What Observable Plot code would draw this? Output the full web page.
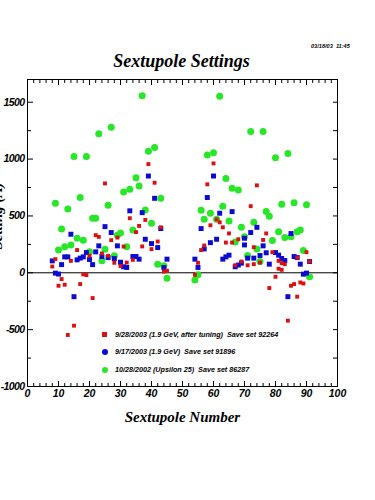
<!DOCTYPE html>
<html><head><meta charset="utf-8">
<script src="https://cdn.jsdelivr.net/npm/d3@7"></script>
<script src="https://cdn.jsdelivr.net/npm/@observablehq/plot@0.6"></script>
<style>
html,body{margin:0;padding:0;background:#fff;}
#wrap{position:relative;width:375px;height:500px;overflow:hidden;background:#fff;}
#chart{position:absolute;left:0;top:0;}
.title{position:absolute;left:0;width:363px;top:51px;text-align:center;font:italic bold 18px "Liberation Serif";color:#000;white-space:nowrap;}
.date{position:absolute;left:311px;top:43px;font:italic bold 5.6px "Liberation Sans";color:#000;white-space:pre;}
.leg{position:absolute;left:100px;font:italic bold 7.2px "Liberation Sans";color:#000;white-space:pre;line-height:9px;}
.leg span.m{position:absolute;left:0;}
.leg span.t{position:absolute;left:15px;top:0;}
svg g[aria-label="x-axis label"] text{font-family:"Liberation Serif";font-size:15px;letter-spacing:0;}
svg g[aria-label="y-axis tick label"] text{letter-spacing:-0.6px;}
</style>
</head><body>
<div id="wrap"></div>
<script>
// Sextupole numbers and settings (A), one array pair per save set
const seriesNames = [
  "9/28/2003 (1.9 GeV, after tuning)  Save set 92264",
  "9/17/2003 (1.9 GeV)  Save set 91896",
  "10/28/2002 (Upsilon 25)  Save set 86287"
];
const seriesColors = ["#dc1010", "#0a0ad2", "#28e628"];

const redNum = [8,9,10,11,12,13,14,15,16,17,18,19,20,21,22,23,24,25,26,27,28,29,30,31,32,33,34,35,36,37,38,39,40,41,42,43,44,45,
  54,55,56,57,58,59,60,61,62,63,64,65,66,67,68,69,71,72,73,73,74,75,76,77,78,79,80,81,81,82,82,83,84,85,86,87,87,88,89,90,91];
const redVal = [55,120,-114,-55,-105,-547,105,-465,200,-99,-14,-20,149,-222,331,316,170,786,150,287,88,310,60,231,90,480,114,358,412,232,465,956,208,792,275,400,11,18,
  -18,88,200,240,778,418,962,470,444,400,266,346,266,66,295,99,66,586,225,76,769,90,289,346,-134,181,-35,105,36,85,26,76,-421,-114,-99,-210,134,-85,-94,181,99];

const blueNum = [8,9,10,11,12,13,14,15,16,17,18,19,20,21,22,23,24,25,26,27,28,29,30,31,32,33,34,35,36,37,38,39,40,41,42,43,44,45,
  54,55,56,57,58,59,60,61,62,63,64,65,66,67,68,69,70,70,71,72,73,74,75,76,77,78,80,81,82,83,84,85,86,87,88,89,90,91];
const blueVal = [105,-3,-11,72,140,140,339,-210,114,129,140,178,117,72,184,237,143,406,134,354,125,237,93,53,47,545,143,143,120,529,295,851,257,655,222,389,47,120,
  120,47,389,210,662,265,851,295,524,120,140,155,538,53,68,85,245,304,129,354,129,400,152,237,176,76,178,155,126,108,-210,345,143,134,76,-12,-3,99];

const greenNum = [9,10,11,12,13,14,15,16,17,18,19,20,21,22,23,24,25,26,27,28,29,30,31,32,33,34,35,36,37,38,39,40,41,42,43,44,45,
  54,55,56,57,58,59,60,61,62,63,64,65,66,67,68,69,70,71,72,73,74,75,76,77,78,79,80,81,82,83,84,85,86,87,88,89,90,91];
const greenVal = [611,200,385,228,562,245,1023,304,662,287,1023,184,480,480,1222,105,208,594,1280,149,330,350,710,228,734,377,836,763,1558,552,1070,436,1102,76,655,61,-47,
  -64,-18,550,471,1035,524,1055,470,1552,585,830,455,743,270,728,400,318,152,1243,444,210,99,1243,538,497,284,1011,362,603,310,1050,316,617,360,377,196,599,-35];

const xMajor = [0,10,20,30,40,50,60,70,80,90,100];
const xMinor = d3.range(0, 101, 2).filter(v => v % 10 !== 0);
const yMajor = [-1000,-500,0,500,1000,1500];
const yMinor = [-750,-250,250,750,1250];
const yRight = [-750,-500,-250,0,250,500,750,1000,1250,1500];

const pts = (nums, vals) => nums.map((n, i) => ({n, v: vals[i]}));
const red = pts(redNum, redVal), blue = pts(blueNum, blueVal), green = pts(greenNum, greenVal);
const plain = d => String(d);

const chart = Plot.plot({
  width: 375, height: 500,
  marginLeft: 27, marginRight: 38, marginTop: 79, marginBottom: 114,
  x: {domain: [0, 100]},
  y: {domain: [-1000, 1700]},
  style: {fontFamily: "Liberation Sans", fontSize: "10.5px", fontWeight: "bold", fontStyle: "italic", background: "white", color: "black"},
  marks: [
    Plot.ruleY([0], {stroke: "black", strokeWidth: 1}),
    Plot.frame({stroke: "black", strokeWidth: 1}),
    Plot.axisX(xMajor, {anchor: "bottom", tickSize: -5, fill: "none", stroke: "black", label: null}),
    Plot.axisX(xMinor, {anchor: "bottom", tickSize: -3, fill: "none", stroke: "black", label: null}),
    Plot.axisX(xMajor, {anchor: "top", tickSize: -5, fill: "none", stroke: "black", label: null}),
    Plot.axisX(xMinor, {anchor: "top", tickSize: -3, fill: "none", stroke: "black", label: null}),
    Plot.axisY(yMajor, {anchor: "left", tickSize: -6, fill: "none", stroke: "black", label: null}),
    Plot.axisY(yMinor, {anchor: "left", tickSize: -4, fill: "none", stroke: "black", label: null}),
    Plot.axisY(yRight, {anchor: "right", tickSize: -5, fill: "none", stroke: "black", label: null}),
    Plot.axisX(xMajor, {anchor: "bottom", tickSize: 0, tickPadding: 3, fill: "black", tickFormat: plain,
      label: "Sextupole Number", labelAnchor: "center", labelOffset: 35, labelArrow: "none"}),
    Plot.axisY(yMajor, {anchor: "left", tickSize: 0, tickPadding: 3, fill: "black", tickFormat: plain, label: null}),
    Plot.text(["Setting (A)"], {text: d => d, frameAnchor: "left", rotate: -90, dx: -30, dy: -17,
      textAnchor: "middle", lineAnchor: "middle", fontSize: 15, fontFamily: "Liberation Serif", fill: "black"}),
    Plot.dot(green, {x: "n", y: "v", r: 3.5, fill: seriesColors[2], stroke: "none"}),
    Plot.dot(blue, {x: "n", y: "v", r: 2.8, symbol: "square", fill: seriesColors[1], stroke: "none"}),
    Plot.dot(red, {x: "n", y: "v", r: 2.2, symbol: "square", fill: seriesColors[0], stroke: "none"})
  ]
});
chart.id = "chart";
const wrap = document.getElementById("wrap");
wrap.appendChild(chart);

const t = document.createElement("div"); t.className = "title"; t.textContent = "Sextupole Settings"; wrap.appendChild(t);
const dt = document.createElement("div"); dt.className = "date"; dt.textContent = "03/18/03  11:45"; wrap.appendChild(dt);

const legTops = [330, 347, 365];
const legShapes = [
  "width:5px;height:5px;top:2px;left:2px;",
  "width:6px;height:6px;top:1.5px;left:1.5px;border-radius:50%;",
  "width:6px;height:6px;top:1.5px;left:1.5px;border-radius:50%;"
];
seriesNames.forEach((name, i) => {
  const row = document.createElement("div");
  row.className = "leg"; row.style.top = legTops[i] + "px";
  const m = document.createElement("span"); m.className = "m";
  m.style.cssText += legShapes[i] + "background:" + seriesColors[i] + ";";
  const tx = document.createElement("span"); tx.className = "t"; tx.textContent = name;
  row.appendChild(m); row.appendChild(tx); wrap.appendChild(row);
});
</script>
</body></html>
